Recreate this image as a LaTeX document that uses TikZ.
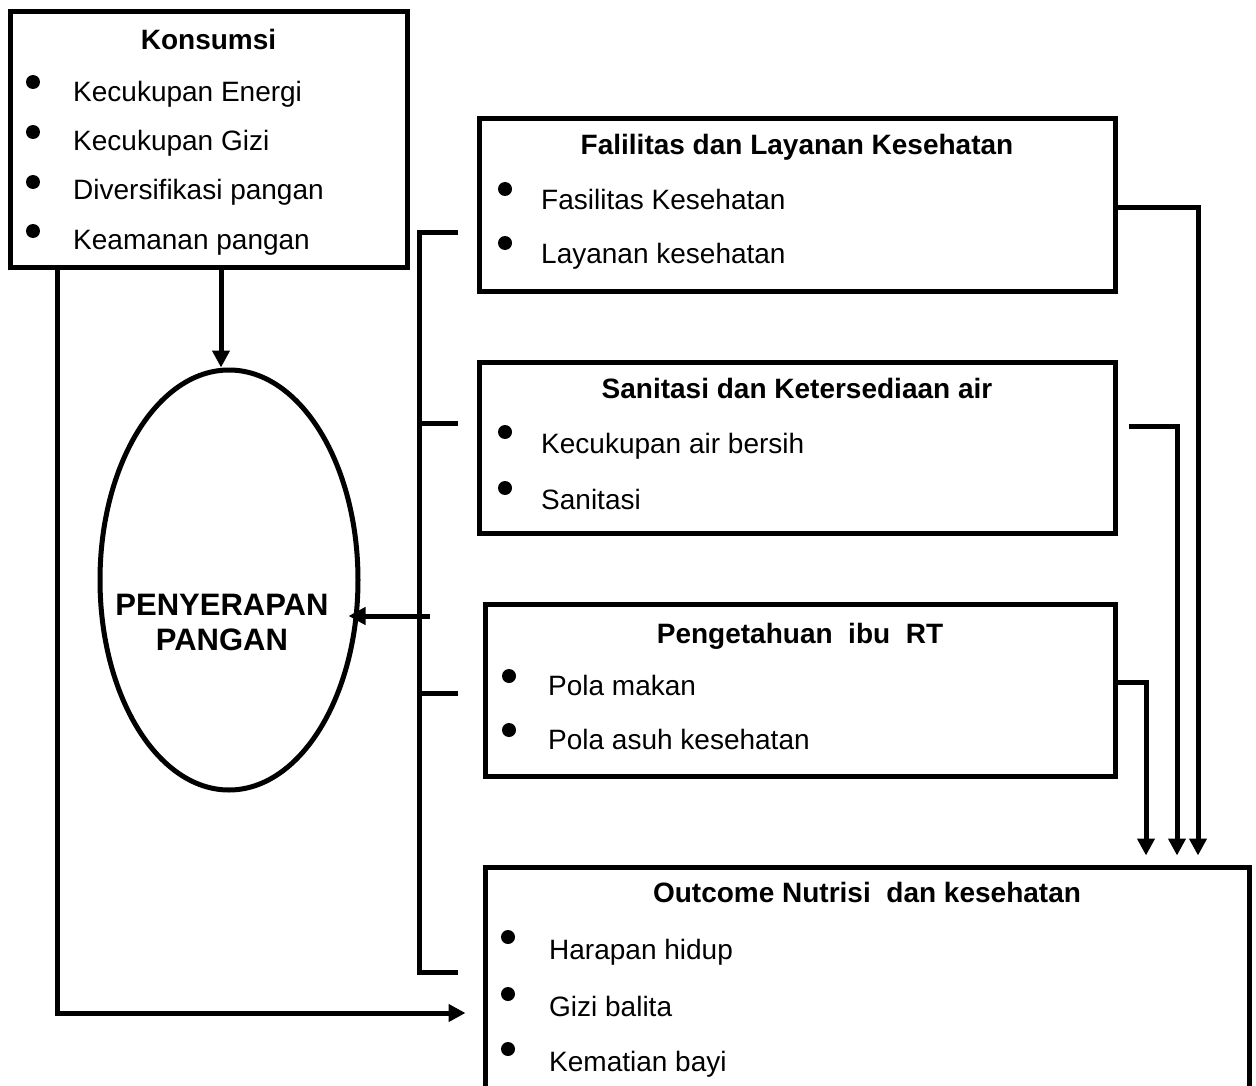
\documentclass[tikz,border=0pt]{standalone}
\usepackage{fontspec}
\setmainfont{Liberation Sans}
\usetikzlibrary{arrows.meta,shapes.geometric}

\begin{document}
\begin{tikzpicture}[x=1pt, y=-1pt]
  \useasboundingbox (0,0) rectangle (1256,1086);
  \clip (0,0) rectangle (1256,1086);  % Unterer Rand der letzten Box wird abgeschnitten.

  \tikzstyle{box}=[rectangle, draw, line width=5pt, inner sep=0pt]
  \tikzstyle{dot}=[circle, fill=black, minimum size=14pt, inner sep=0pt]
  \tikzstyle{item}=[anchor=base west, inner sep=0pt, font=\fontsize{28}{34}\selectfont]
  \tikzstyle{head}=[anchor=base, inner sep=0pt, font=\fontsize{28}{34}\selectfont\bfseries]
  \tikzstyle{line}=[line width=5pt]
  \tikzstyle{arrow}=[line width=5pt, -{Triangle[length=17pt, width=17pt]}]

  % Boxen
  \node[box, minimum width=397pt, minimum height=256pt] (kons) at (208.5, 140) {};
  \node[box, minimum width=636pt, minimum height=172pt] (fas)  at (797, 205)    {};
  \node[box, minimum width=636pt, minimum height=171pt] (san)  at (797, 447.5)  {};
  \node[box, minimum width=630pt, minimum height=172pt] (pen)  at (800, 690)    {};
  \node[box, minimum width=764pt, minimum height=253pt] (out)  at (867, 993.5)  {};
  \node[ellipse, draw, line width=5pt, minimum width=258pt, minimum height=420pt, inner sep=0pt] (pang) at (229, 580) {};
  \node[align=center, inner sep=0pt, font=\fontsize{31}{35}\selectfont\bfseries] (pangtxt) at (222, 622) {PENYERAPAN\\PANGAN};

  % Konsumsi
  \node[head] (konsh) at (208.5, 50) {Konsumsi};
  \node[dot] (kd1) at (33, 82)  {};
  \node[dot] (kd2) at (33, 132) {};
  \node[dot] (kd3) at (33, 182) {};
  \node[dot] (kd4) at (33, 231) {};
  \node[item] (k1) at (73, 102) {Kecukupan Energi};
  \node[item] (k2) at (73, 151) {Kecukupan Gizi};
  \node[item] (k3) at (73, 200) {Diversifikasi pangan};
  \node[item] (k4) at (73, 250) {Keamanan pangan};

  % Fasilitas
  \node[head] (fash) at (797, 155) {Falilitas dan Layanan Kesehatan};
  \node[dot] (fd1) at (505, 189) {};
  \node[dot] (fd2) at (505, 243) {};
  \node[item] (f1) at (541, 210) {Fasilitas Kesehatan};
  \node[item] (f2) at (541, 264) {Layanan kesehatan};

  % Sanitasi
  \node[head] (sanh) at (797, 398) {Sanitasi dan Ketersediaan air};
  \node[dot] (sd1) at (505, 432) {};
  \node[dot] (sd2) at (505, 488) {};
  \node[item] (s1) at (541, 453) {Kecukupan air bersih};
  \node[item] (s2) at (541, 509) {Sanitasi};

  % Pengetahuan
  \node[head] (penh) at (800, 643) {Pengetahuan\ \ ibu\ \ RT};
  \node[dot] (pd1) at (509, 676) {};
  \node[dot] (pd2) at (509, 730) {};
  \node[item] (p1) at (548, 695) {Pola makan};
  \node[item] (p2) at (548, 749) {Pola asuh kesehatan};

  % Outcome
  \node[head] (outh) at (867, 902) {Outcome Nutrisi\ \ dan kesehatan};
  \node[dot] (od1) at (508, 937)  {};
  \node[dot] (od2) at (508, 994)  {};
  \node[dot] (od3) at (508, 1049) {};
  \node[item] (o1) at (549, 959)  {Harapan hidup};
  \node[item] (o2) at (549, 1016) {Gizi balita};
  \node[item] (o3) at (549, 1071) {Kematian bayi};

  % Verbindungen
  \coordinate (kb) at (57, 1013);
  \draw[arrow] (kons.south -| kb) |- ([xshift=-17pt]out.west |- kb);
  \draw[arrow] ([xshift=-8pt]kons.south -| pang.north) -- ([xshift=-8pt]pang.north);

  \coordinate (bx) at (419, 0);
  \coordinate (b1) at (458, 233);
  \coordinate (b2) at (458, 423);
  \coordinate (b3) at (458, 693);
  \coordinate (b4) at (458, 972);
  \coordinate (b5) at (430, 616);
  \draw[line] (b1) -- (b1 -| bx) -- (b4 -| bx) -- (b4);
  \draw[line] (b2 -| bx) -- (b2);
  \draw[line] (b3 -| bx) -- (b3);
  \draw[arrow] (b5) -- ([xshift=-12pt]pang.east |- b5);

  \coordinate (fc) at (1198, 208);
  \coordinate (sc) at (1177, 426);
  \coordinate (pc) at (1146, 682);
  \draw[arrow] (fas.east |- fc) -- (fc) -- ([yshift=9pt]out.north -| fc);
  \draw[arrow] ([xshift=11pt]san.east |- sc) -- (sc) -- ([yshift=9pt]out.north -| sc);
  \draw[arrow] (pen.east |- pc) -- (pc) -- ([yshift=9pt]out.north -| pc);
\end{tikzpicture}
\end{document}
